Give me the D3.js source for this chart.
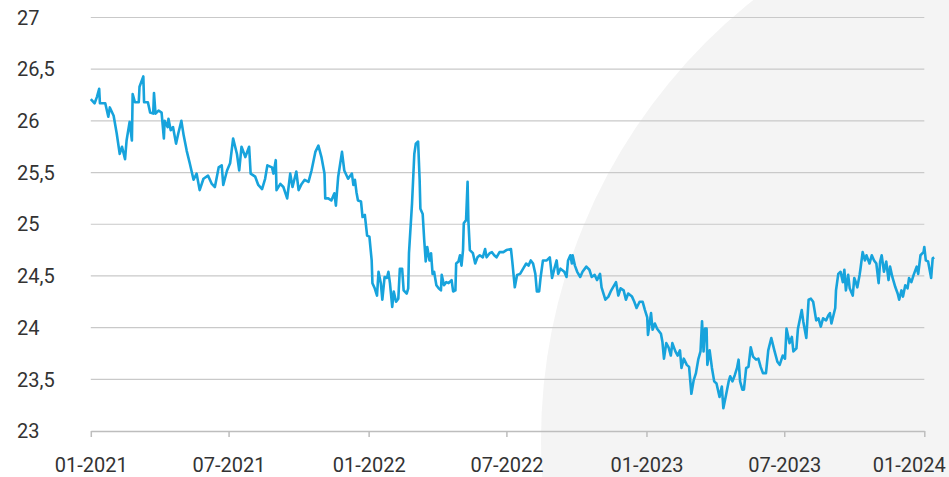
<!DOCTYPE html>
<html>
<head>
<meta charset="utf-8">
<script src="https://cdn.jsdelivr.net/npm/d3@7"></script>
<style>
  html, body { margin: 0; padding: 0; background: #fff; }
  svg { display: block; font-family: Roboto, "Open Sans", sans-serif; }
</style>
</head>
<body>
<script>
// daily-ish readings, dates and values kept in parallel
const dates = [
  "2021-01-01","2021-01-06","2021-01-09","2021-01-12","2021-01-13","2021-01-20","2021-01-24","2021-01-26","2021-01-31",
  "2021-02-04","2021-02-08","2021-02-11","2021-02-15","2021-02-17","2021-02-21","2021-02-24","2021-02-25","2021-02-28",
  "2021-03-05","2021-03-06","2021-03-11","2021-03-12","2021-03-17","2021-03-20","2021-03-24","2021-03-25","2021-03-27","2021-03-31",
  "2021-04-04","2021-04-07","2021-04-08","2021-04-12","2021-04-13","2021-04-16","2021-04-19","2021-04-23","2021-04-26","2021-04-30",
  "2021-05-03","2021-05-07","2021-05-11","2021-05-16","2021-05-20","2021-05-24","2021-05-29",
  "2021-06-04","2021-06-09","2021-06-13","2021-06-18","2021-06-22","2021-06-24","2021-06-29",
  "2021-07-03","2021-07-07","2021-07-12","2021-07-15","2021-07-18","2021-07-23","2021-07-28","2021-07-30",
  "2021-08-05","2021-08-09","2021-08-14","2021-08-18","2021-08-21","2021-08-27","2021-08-29",
  "2021-09-01","2021-09-02","2021-09-07","2021-09-11","2021-09-16","2021-09-20","2021-09-23","2021-09-28",
  "2021-10-01","2021-10-05","2021-10-09","2021-10-14","2021-10-18","2021-10-23","2021-10-27","2021-10-31",
  "2021-11-04","2021-11-05","2021-11-09","2021-11-13","2021-11-17","2021-11-19","2021-11-22","2021-11-27","2021-11-30",
  "2021-12-05","2021-12-10","2021-12-12","2021-12-14","2021-12-16","2021-12-18","2021-12-22","2021-12-24","2021-12-27","2021-12-30",
  "2022-01-02","2022-01-05","2022-01-06","2022-01-09","2022-01-12","2022-01-14","2022-01-17","2022-01-19","2022-01-22","2022-01-25","2022-01-27","2022-01-29",
  "2022-02-01","2022-02-03","2022-02-06","2022-02-09","2022-02-11","2022-02-14","2022-02-16","2022-02-20","2022-02-22","2022-02-23","2022-02-27",
  "2022-03-02","2022-03-04","2022-03-07","2022-03-09","2022-03-10","2022-03-13","2022-03-15","2022-03-17","2022-03-19","2022-03-22","2022-03-24","2022-03-26","2022-03-28","2022-03-31",
  "2022-04-03","2022-04-06","2022-04-07","2022-04-10","2022-04-13","2022-04-16","2022-04-20","2022-04-22","2022-04-25","2022-04-26","2022-04-29",
  "2022-05-01","2022-05-03","2022-05-05","2022-05-06","2022-05-09","2022-05-11","2022-05-12","2022-05-14","2022-05-18","2022-05-21","2022-05-24","2022-05-27","2022-05-31",
  "2022-06-03","2022-06-05","2022-06-09","2022-06-12","2022-06-15","2022-06-18","2022-06-22","2022-06-27",
  "2022-07-01","2022-07-07","2022-07-09","2022-07-12","2022-07-15","2022-07-19","2022-07-23","2022-07-27","2022-07-30",
  "2022-08-02","2022-08-05","2022-08-08","2022-08-10","2022-08-13","2022-08-15","2022-08-18","2022-08-23","2022-08-27","2022-08-30",
  "2022-09-02","2022-09-05","2022-09-07","2022-09-10","2022-09-15","2022-09-18","2022-09-20","2022-09-23","2022-09-25","2022-09-26","2022-09-29",
  "2022-10-02","2022-10-06","2022-10-09","2022-10-14","2022-10-18","2022-10-21","2022-10-25","2022-10-28",
  "2022-11-01","2022-11-03","2022-11-08","2022-11-12","2022-11-15","2022-11-18","2022-11-22","2022-11-25","2022-11-28",
  "2022-12-02","2022-12-05","2022-12-08","2022-12-13","2022-12-16","2022-12-19","2022-12-23","2022-12-27","2022-12-30",
  "2023-01-02","2023-01-03","2023-01-07","2023-01-09","2023-01-12","2023-01-15","2023-01-20","2023-01-22","2023-01-24","2023-01-27","2023-01-30",
  "2023-02-02","2023-02-04","2023-02-08","2023-02-11","2023-02-14","2023-02-16","2023-02-19","2023-02-23","2023-02-26",
  "2023-03-01","2023-03-04","2023-03-07","2023-03-10","2023-03-13","2023-03-15","2023-03-17","2023-03-19","2023-03-21","2023-03-22","2023-03-25","2023-03-28","2023-03-31",
  "2023-04-03","2023-04-07","2023-04-10","2023-04-12","2023-04-15","2023-04-19","2023-04-21","2023-04-24","2023-04-27","2023-04-30",
  "2023-05-02","2023-05-04","2023-05-07","2023-05-09","2023-05-12","2023-05-15","2023-05-18","2023-05-21","2023-05-25","2023-05-28","2023-05-31",
  "2023-06-03","2023-06-07","2023-06-10","2023-06-14","2023-06-18","2023-06-22","2023-06-25","2023-06-29",
  "2023-07-02","2023-07-04","2023-07-08","2023-07-11","2023-07-13","2023-07-17","2023-07-19","2023-07-24","2023-07-26","2023-07-30",
  "2023-08-02","2023-08-05","2023-08-08","2023-08-12","2023-08-15","2023-08-18","2023-08-21","2023-08-25","2023-08-28","2023-08-30",
  "2023-09-01","2023-09-06","2023-09-07","2023-09-10","2023-09-13","2023-09-16","2023-09-18","2023-09-20","2023-09-23","2023-09-25","2023-09-29",
  "2023-10-01","2023-10-03","2023-10-05","2023-10-08","2023-10-09","2023-10-12","2023-10-15","2023-10-17","2023-10-21","2023-10-24","2023-10-27","2023-10-30",
  "2023-11-02","2023-11-04","2023-11-06","2023-11-09","2023-11-12","2023-11-15","2023-11-17","2023-11-20","2023-11-24","2023-11-27","2023-11-29",
  "2023-12-02","2023-12-04","2023-12-07","2023-12-10","2023-12-12","2023-12-15","2023-12-18","2023-12-22","2023-12-24","2023-12-27","2023-12-31",
  "2024-01-01","2024-01-03","2024-01-06","2024-01-10","2024-01-12","2024-01-14"
];

const rates = [
  26.21,26.17,26.23,26.31,26.17,26.17,26.04,26.13,26.05,
  25.88,25.68,25.75,25.63,25.81,25.99,25.81,26.26,26.18,
  26.18,26.33,26.43,26.18,26.18,26.08,26.07,26.27,26.07,26.10,
  26.08,25.83,26.00,25.94,26.02,25.91,25.94,25.78,25.88,26.00,
  25.86,25.71,25.59,25.43,25.49,25.33,25.44,
  25.47,25.39,25.36,25.55,25.57,25.38,25.52,
  25.59,25.83,25.68,25.52,25.75,25.65,25.75,25.49,
  25.46,25.38,25.34,25.44,25.57,25.55,25.49,
  25.62,25.33,25.39,25.36,25.25,25.49,25.36,25.51,
  25.33,25.39,25.43,25.41,25.52,25.70,25.76,25.65,
  25.49,25.25,25.25,25.23,25.30,25.18,25.46,25.70,25.52,
  25.44,25.49,25.38,25.43,25.31,25.23,25.22,25.07,25.09,24.89,
  24.88,24.65,24.43,24.38,24.31,24.54,24.43,24.27,24.49,24.48,24.54,24.43,
  24.20,24.35,24.25,24.28,24.57,24.57,24.36,24.33,24.38,24.72,25.20,
  25.68,25.78,25.80,25.43,25.15,25.10,24.85,24.64,24.78,24.65,24.72,24.52,24.54,24.41,
  24.38,24.36,24.51,24.41,24.44,24.43,24.46,24.35,24.36,24.62,24.64,
  24.70,24.60,24.75,25.01,25.04,25.41,25.04,24.75,24.72,24.62,24.68,24.70,24.68,
  24.76,24.68,24.72,24.73,24.70,24.68,24.73,24.73,
  24.75,24.76,24.62,24.39,24.51,24.52,24.57,24.62,24.60,
  24.65,24.62,24.52,24.35,24.35,24.49,24.65,24.65,24.68,24.48,
  24.57,24.65,24.52,24.57,24.54,24.49,24.65,24.70,24.62,24.70,24.60,
  24.54,24.49,24.54,24.59,24.56,24.49,24.51,24.46,
  24.52,24.39,24.27,24.30,24.35,24.39,24.44,24.31,24.38,
  24.36,24.27,24.33,24.30,24.25,24.19,24.25,24.25,24.17,
  24.10,23.93,24.14,23.98,24.04,23.99,23.94,23.86,23.70,23.85,23.81,
  23.73,23.85,23.77,23.73,23.78,23.61,23.70,23.64,23.62,
  23.36,23.49,23.56,23.69,23.77,24.06,23.77,23.99,23.99,23.64,23.78,23.61,23.48,
  23.46,23.33,23.43,23.22,23.33,23.48,23.53,23.48,23.54,23.61,
  23.69,23.48,23.40,23.40,23.61,23.62,23.81,23.72,23.69,23.70,23.62,
  23.56,23.56,23.78,23.90,23.78,23.67,23.64,23.73,
  23.70,23.99,23.85,23.91,23.77,23.80,23.99,24.17,24.06,23.90,
  24.27,24.28,24.25,24.07,24.09,24.01,24.09,24.07,24.12,24.14,
  24.04,24.19,24.36,24.52,24.54,24.44,24.56,24.36,24.51,24.38,24.31,
  24.48,24.44,24.39,24.51,24.56,24.73,24.65,24.70,24.62,24.70,24.65,24.62,
  24.43,24.64,24.70,24.54,24.64,24.46,24.59,24.49,24.39,24.33,24.27,
  24.36,24.30,24.41,24.38,24.48,24.44,24.51,24.59,24.52,24.70,24.73,
  24.78,24.65,24.64,24.48,24.67,24.68
];

const xTicks = ["2021-01-01", "2021-07-01", "2022-01-01", "2022-07-01", "2023-01-01", "2023-07-01", "2024-01-01"];
const yTicks = [23, 23.5, 24, 24.5, 25, 25.5, 26, 26.5, 27];

const width = 949, height = 477;
const parse = d3.timeParse("%Y-%m-%d");
const data = dates.map((d, i) => ({ date: parse(d), value: rates[i] }));

const svg = d3.select("body").append("svg")
    .attr("width", width)
    .attr("height", height);

// big pale disc behind the right half
svg.append("circle")
    .attr("cx", 1103)
    .attr("cy", 440)
    .attr("r", 562)
    .attr("fill", "#f4f4f4");

const x = d3.scaleTime()
    .domain([parse(xTicks[0]), parse(xTicks[xTicks.length - 1])])
    .range([90.8, 924.3]);

const y = d3.scaleLinear()
    .domain([23, 27])
    .range([431, 17.5]);

// horizontal grid
svg.append("g")
    .selectAll("line")
    .data(yTicks.slice(1))
    .join("line")
    .attr("x1", x.range()[0])
    .attr("x2", x.range()[1])
    .attr("y1", d => y(d))
    .attr("y2", d => y(d))
    .attr("stroke", "#c9c9c9")
    .attr("stroke-width", 1.2);

// y labels, decimal comma
svg.append("g")
    .selectAll("text")
    .data(yTicks)
    .join("text")
    .attr("x", 17)
    .attr("y", d => y(d))
    .attr("dy", "0.36em")
    .attr("font-size", 20)
    .attr("fill", "#333")
    .text(d => String(d).replace(".", ","));

// x axis
const xAxisG = svg.append("g")
    .attr("transform", `translate(0, ${y(23)})`)
    .call(d3.axisBottom(x)
        .tickValues(xTicks.map(parse))
        .tickFormat(d3.timeFormat("%m-%Y"))
        .tickSize(6)
        .tickSizeOuter(0)
        .tickPadding(21));

// axis sets its own font on call, so override afterwards
xAxisG.attr("font-size", 20).attr("font-family", "Roboto, 'Open Sans', sans-serif");
xAxisG.select(".domain").attr("stroke", "#bdbdbd").attr("stroke-width", 1.5);
xAxisG.selectAll(".tick line").attr("stroke", "#bdbdbd").attr("stroke-width", 1.5);
xAxisG.selectAll(".tick text").attr("fill", "#333");
// last label is pulled back inside the frame
xAxisG.select(".tick:last-of-type text").attr("text-anchor", "end").attr("x", 21);

// the series
const line = d3.line()
    .x(d => x(d.date))
    .y(d => y(d.value));

svg.append("path")
    .datum(data)
    .attr("fill", "none")
    .attr("stroke", "#17a3dc")
    .attr("stroke-width", 2.6)
    .attr("stroke-linejoin", "round")
    .attr("d", line);
</script>
</body>
</html>
